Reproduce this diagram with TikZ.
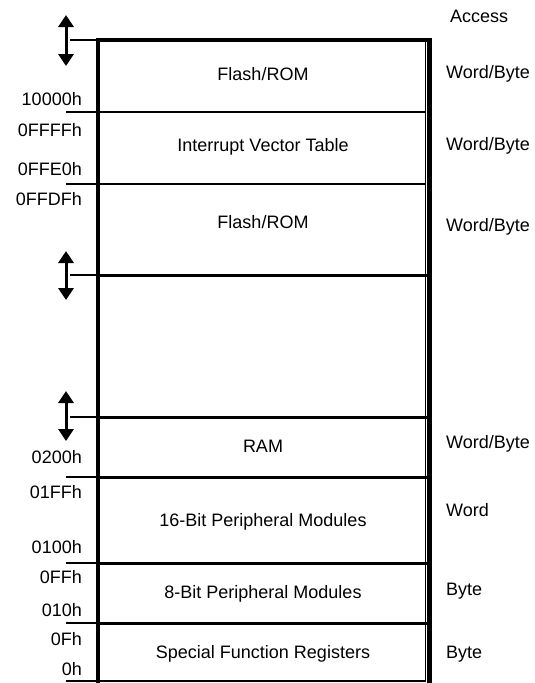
\documentclass[tikz,border=0pt]{standalone}
\usepackage{fontspec}
\setmainfont{Liberation Sans}
\usetikzlibrary{arrows.meta}
\begin{document}
\begin{tikzpicture}[x=1pt,y=-1pt,
  lbl/.style={inner sep=0pt,font=\fontsize{18}{20}\selectfont,text height=13pt,text depth=0pt},
  addr/.style={lbl,anchor=east},
  acc/.style={lbl,anchor=west},
  region/.style={lbl,anchor=center},
  thick frame/.style={line width=4.5pt},
  thin rule/.style={line width=1.3pt},
  mid rule/.style={line width=3pt},
  updown/.style={line width=3pt,{Triangle[width=15pt,length=12pt]}-{Triangle[width=15pt,length=12pt]}}]
\useasboundingbox (0,0) rectangle (535,683);
% named corner coordinates
\coordinate (tl) at (98,40);
\coordinate (tr) at (429.5,40);
\coordinate (bl) at (98,683);
\coordinate (br) at (429.5,683);
% thin rules and ticks
\draw[thin rule] (70,40) -- (98,40);
\draw[thin rule] (66,112) -- (426,112);
\draw[thin rule] (66,184) -- (426,184);
\draw[thin rule] (70,275) -- (98,275);
\draw[thin rule] (70,417) -- (98,417);
\draw[thin rule] (66,477) -- (98,477);
\draw[thin rule] (66,563) -- (98,563);
\draw[thin rule] (66,623) -- (98,623);
\draw[thin rule] (66,681) -- (426,681);
\draw[thin rule] (425.8,40) -- (425.8,681);
% thick rules inside frame
\draw[mid rule] (98,275) -- (429.5,275);
\draw[mid rule] (98,417) -- (429.5,417);
\draw[mid rule] (98,477) -- (429.5,477);
\draw[mid rule] (98,563) -- (429.5,563);
\draw[mid rule] (98,623) -- (429.5,623);
% frame
\draw[thick frame] ([xshift=-2pt]tl) -- ([xshift=2pt]tr);
\draw[thick frame] (tl) -- (bl);
\draw[thick frame] (tr) -- (br);
% arrows
\coordinate (a1t) at (66,15); \coordinate (a1b) at (66,66);
\coordinate (a2t) at (66,251); \coordinate (a2b) at (66,300);
\coordinate (a3t) at (66,391); \coordinate (a3b) at (66,441);
\draw[updown] (a1t) -- (a1b);
\draw[updown] (a2t) -- (a2b);
\draw[updown] (a3t) -- (a3b);
% region labels
\node[region] (r1) at (263,73.5) {Flash/ROM};
\node[region] (r2) at (263,145) {Interrupt Vector Table};
\node[region] (r3) at (263,221.5) {Flash/ROM};
\node[region] (r4) at (263,446) {RAM};
\node[region] (r5) at (263,520) {16-Bit Peripheral Modules};
\node[region] (r6) at (263,592) {8-Bit Peripheral Modules};
\node[region] (r7) at (263,652) {Special Function Registers};
% address labels
\node[addr] (l1) at (82,98.5) {10000h};
\node[addr] (l2) at (82,130) {0FFFFh};
\node[addr] (l3) at (82,168.5) {0FFE0h};
\node[addr] (l4) at (82,198.5) {0FFDFh};
\node[addr] (l5) at (82,457) {0200h};
\node[addr] (l6) at (82,491.5) {01FFh};
\node[addr] (l7) at (82,546.5) {0100h};
\node[addr] (l8) at (82,576.5) {0FFh};
\node[addr] (l9) at (82,610) {010h};
\node[addr] (l10) at (82,638.5) {0Fh};
\node[addr] (l11) at (82,669) {0h};
% access labels
\node[acc] (h) at (450,16) {Access};
\node[acc] (w1) at (446,72) {Word/Byte};
\node[acc] (w2) at (446,143.5) {Word/Byte};
\node[acc] (w3) at (446,225) {Word/Byte};
\node[acc] (w4) at (446,441.5) {Word/Byte};
\node[acc] (w5) at (446,510) {Word};
\node[acc] (w6) at (446,588.5) {Byte};
\node[acc] (w7) at (446,651.5) {Byte};
\end{tikzpicture}
\end{document}
